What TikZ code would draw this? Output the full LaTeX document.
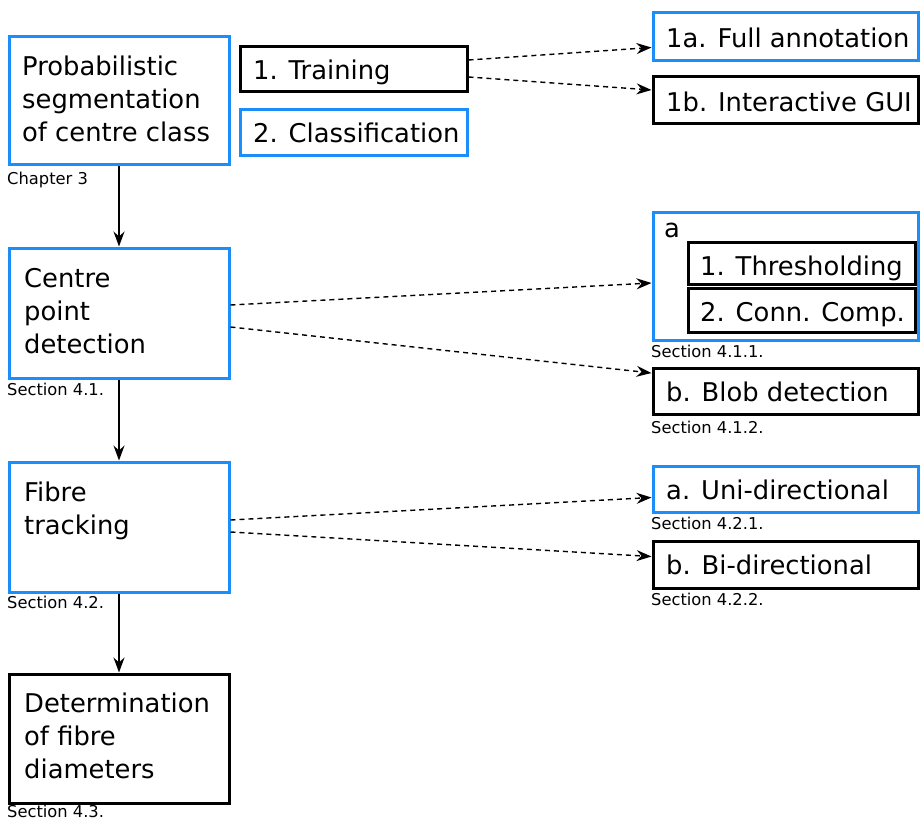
\documentclass[tikz,border=0pt]{standalone}
\usepackage{fontspec}
\setmainfont{DejaVu Sans}
\usetikzlibrary{arrows.meta,fit,calc}
\definecolor{boxblue}{RGB}{28,142,250}
\begin{document}
\begin{tikzpicture}[x=1pt,y=-1pt,
  bluebox/.style={draw=boxblue,line width=3pt,inner sep=0pt,fill=white},
  blackbox/.style={draw=black,line width=3pt,inner sep=0pt,fill=white},
  txt/.style={inner sep=0pt,font=\fontsize{25.8}{33}\selectfont,anchor=base west},
  sect/.style={inner sep=0pt,font=\fontsize{16.3}{18}\selectfont,anchor=base west},
  mainarrow/.style={line width=1.4pt,-{Stealth[length=15pt,width=11pt,inset=5pt]}},
  dasharrow/.style={line width=1.4pt,dash pattern=on 5pt off 4pt,-{Stealth[length=15pt,width=11pt,inset=5pt]}}
]
\useasboundingbox (0,0) rectangle (920,821);
% left column
\node[bluebox,fit={(9,37)(229,165)}] (prob) {};
\node[txt] (probt) at (22,76) {\vtop{\hbox{Probabilistic}\hbox{segmentation}\hbox{of centre class}}};
\node[sect] (chap) at (7,184) {Chapter 3};
\node[bluebox,fit={(9,248)(229,378)}] (centre) {};
\node[txt] (centret) at (24,287) {\vtop{\hbox{Centre}\hbox{point}\hbox{detection}}};
\node[sect] (s41) at (7,395) {Section 4.1.};
\node[bluebox,fit={(9,462)(229,592)}] (fibre) {};
\node[txt] (fibret) at (24,501) {\vtop{\hbox{Fibre}\hbox{tracking}}};
\node[sect] (s42) at (7,608) {Section 4.2.};
\node[blackbox,fit={(9,674)(229,803)}] (diam) {};
\node[txt] (diamt) at (24,712) {\vtop{\hbox{Determination}\hbox{of fibre}\hbox{diameters}}};
\node[sect] (s43) at (7,817) {Section 4.3.};
% middle column
\node[blackbox,fit={(240,47)(467,92)}] (train) {};
\node[txt] (traint) at (253,80) {1. Training};
\node[bluebox,fit={(240,110)(467,156)}] (class) {};
\node[txt] (classt) at (253,143) {2. Classification};
% right column
\node[bluebox,fit={(653,13)(918,61)}] (full) {};
\node[txt] (fullt) at (666,48) {1a. Full annotation};
\node[blackbox,fit={(653,77)(918,124)}] (gui) {};
\node[txt] (guit) at (666,112) {1b. Interactive GUI};
\node[bluebox,fit={(653,212)(918,340)}] (abox) {};
\node[txt] (at) at (664,237) {a};
\node[blackbox,fit={(688,242)(915,284)}] (thr) {};
\node[txt] (thrt) at (700,275) {1. Thresholding};
\node[blackbox,fit={(688,288)(915,332)}] (conn) {};
\node[txt] (connt) at (700,321) {2. Conn. Comp.};
\node[sect] (s411) at (651,357) {Section 4.1.1.};
\node[blackbox,fit={(653,368)(918,414)}] (blob) {};
\node[txt] (blobt) at (666,401) {b. Blob detection};
\node[sect] (s412) at (651,433) {Section 4.1.2.};
\node[bluebox,fit={(653,466)(918,512)}] (uni) {};
\node[txt] (unit) at (666,499) {a. Uni-directional};
\node[sect] (s421) at (651,529) {Section 4.2.1.};
\node[blackbox,fit={(653,541)(918,588)}] (bi) {};
\node[txt] (bit) at (666,574) {b. Bi-directional};
\node[sect] (s422) at (651,605) {Section 4.2.2.};
% main arrows
\draw[mainarrow] (prob.south) -- (centre.north);
\draw[mainarrow] (centre.south) -- (fibre.north);
\draw[mainarrow] (fibre.south) -- (diam.north);
% dashed arrows
\draw[dasharrow] ($(train.east)+(0,-9.5)$) -- ($(full.west)+(0,10.5)$);
\draw[dasharrow] ($(train.east)+(0,7.5)$) -- ($(gui.west)+(0,-10.5)$);
\draw[dasharrow] ($(centre.east)+(0,-8)$) -- ($(abox.west)+(0,7)$);
\draw[dasharrow] ($(centre.east)+(0,14)$) -- ($(blob.west)+(0,-18)$);
\draw[dasharrow] ($(fibre.east)+(0,-7)$) -- ($(uni.west)+(0,8.5)$);
\draw[dasharrow] ($(fibre.east)+(0,5)$) -- ($(bi.west)+(0,-8)$);
\end{tikzpicture}
\end{document}
